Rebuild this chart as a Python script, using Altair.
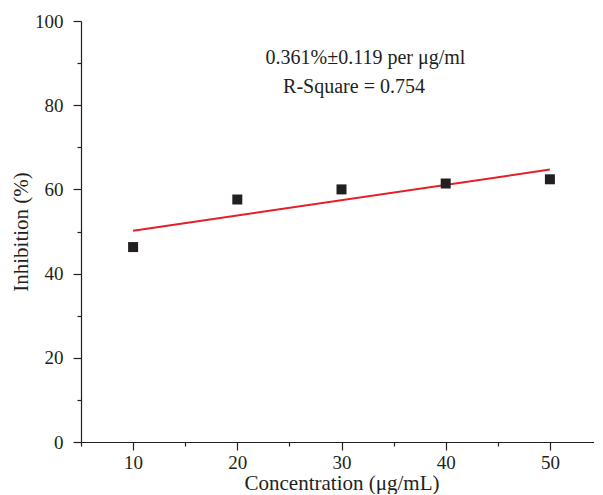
import altair as alt
import pandas as pd

# measured data
conc = [10, 20, 30, 40, 50]
inhibition = [46.3, 57.6, 60.0, 61.4, 62.4]

# linear fit end points
fit_x = [10, 50]
fit_y = [50.2, 64.7]

# annotation
ann_text = ["0.361%\u00b10.119 per \u03bcg/ml", "R-Square = 0.754"]
ann_x = [32.3, 31.2]
ann_y = [89.9, 82.8]

x_ticks = [5, 10, 15, 20, 25, 30, 35, 40, 45, 50, 55]
y_ticks = [0, 10, 20, 30, 40, 50, 60, 70, 80, 90, 100]

FONT = "Liberation Serif"
DARK = "#231f20"

pts = pd.DataFrame({"x": conc, "y": inhibition})
fit = pd.DataFrame({"x": fit_x, "y": fit_y})
ann = pd.DataFrame({"x": ann_x, "y": ann_y, "t": ann_text})

xscale = alt.Scale(domain=[5, 55], nice=False, zero=False)
yscale = alt.Scale(domain=[0, 100], nice=False)

xaxis = alt.Axis(
    title="Concentration (\u03bcg/mL)",
    values=x_ticks,
    labelExpr="datum.value % 10 === 0 ? datum.label : ''",
    tickSize={"condition": {"test": "datum.value % 10 === 0", "value": 8}, "value": 4},
    labelPadding=3,
    grid=False,
)
yaxis = alt.Axis(
    title="Inhibition (%)",
    values=y_ticks,
    labelExpr="datum.value % 20 === 0 ? datum.label : ''",
    tickSize={"condition": {"test": "datum.value % 20 === 0", "value": 8}, "value": 4},
    labelPadding=10,
    grid=False,
)

points = alt.Chart(pts).mark_point(
    shape="square", filled=True, size=100, color=DARK, opacity=1
).encode(
    x=alt.X("x:Q", scale=xscale, axis=xaxis),
    y=alt.Y("y:Q", scale=yscale, axis=yaxis),
)

line = alt.Chart(fit).mark_line(color="#e41f26", strokeWidth=2).encode(
    x=alt.X("x:Q", scale=xscale),
    y=alt.Y("y:Q", scale=yscale),
)

text = alt.Chart(ann).mark_text(
    font=FONT, fontSize=20, color=DARK, align="center", baseline="alphabetic"
).encode(
    x=alt.X("x:Q", scale=xscale),
    y=alt.Y("y:Q", scale=yscale),
    text="t:N",
)

chart = (
    alt.layer(line, points, text)
    .properties(
        width=521,
        height=421,
        autosize=alt.AutoSizeParams(type="none"),
        padding={"left": 73, "top": 13, "right": -8, "bottom": 52},
    )
    .configure_view(stroke=None)
    .configure_axis(
        domainColor=DARK,
        domainWidth=1.2,
        tickColor=DARK,
        tickWidth=1.2,
        labelFont=FONT,
        labelFontSize=19,
        labelColor=DARK,
        titleFont=FONT,
        titleFontSize=21,
        titleFontWeight="normal",
        titleColor=DARK,
    )
    .configure_axisY(titlePadding=3)
    .configure_axisX(titlePadding=0)
)

chart.save("out.html", embed_options={"renderer": "svg", "actions": False})
